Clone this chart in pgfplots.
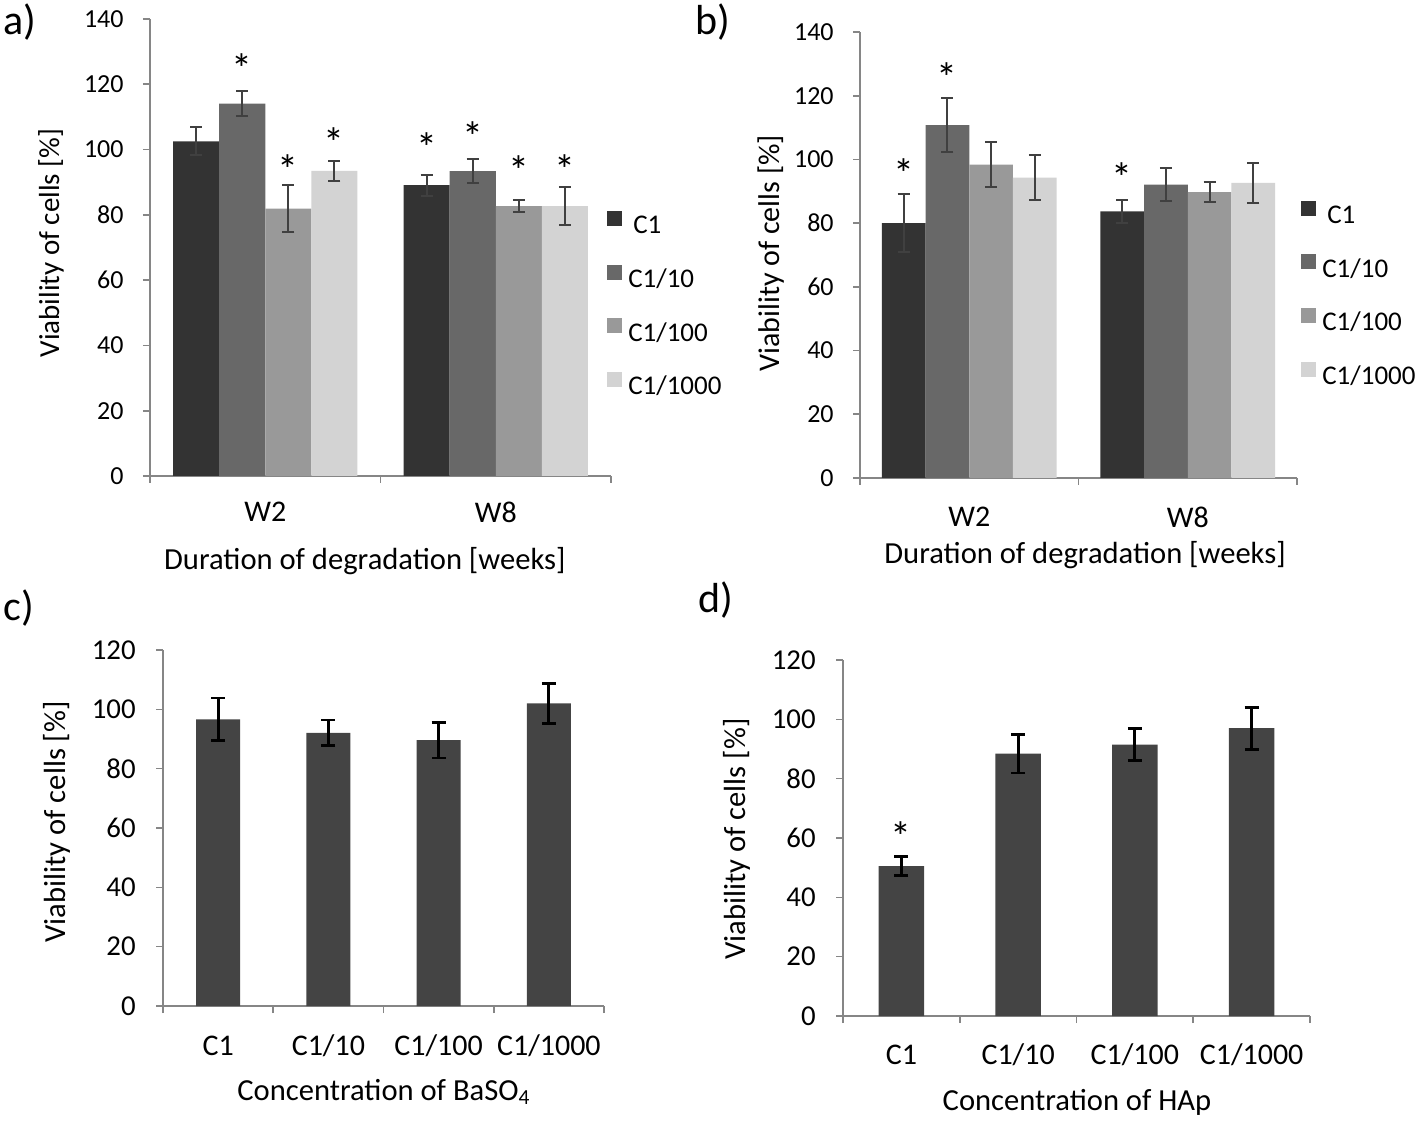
\documentclass[border=0pt]{standalone}
\usepackage{pgfplots}
\pgfplotsset{compat=1.18}
\usepackage{fontspec}
\setmainfont{Carlito}

\definecolor{cA}{HTML}{333333}
\definecolor{cB}{HTML}{686868}
\definecolor{cC}{HTML}{999999}
\definecolor{cD}{HTML}{D3D3D3}
\definecolor{cS}{HTML}{444444}
\definecolor{axisgray}{HTML}{868686}
\definecolor{errgray}{HTML}{404040}

\newcommand{\fs}[1]{\fontsize{#1}{#1}\selectfont}

\pgfplotsset{
  panel/.style={
    scale only axis, anchor=south west, clip=false,
    axis lines*=left,
    axis line style={draw=axisgray, line width=0.8pt},
    tick style={draw=axisgray, line width=0.8pt},
    tick align=outside,
    major tick length=3.5pt,
    ymin=0, ytick distance=20,
    /pgf/number format/assume math mode=true,
    yticklabel style={anchor=east, inner sep=0pt},
    ylabel style={anchor=center},
    xlabel style={anchor=center},
  },
  errA/.style={error bars/.cd, y dir=both, y explicit,
    error bar style={draw=errgray, line width=1pt},
    error mark options={rotate=90, draw=errgray, line width=1pt, mark size=3pt}},
  errC/.style={error bars/.cd, y dir=both, y explicit,
    error bar style={draw=black, line width=1.4pt},
    error mark options={rotate=90, draw=black, line width=1.4pt, mark size=3.5pt}},
  star/.style={draw=none, mark=none, forget plot,
    nodes near coords={*},
    nodes near coords style={anchor=base, yshift=-11.5pt, font=\fs{21}, inner sep=0pt, text=black}},
  barlegend/.style={
    legend image code/.code={\fill[##1, draw=none] (0pt,0.3pt) rectangle (7.5pt,7.8pt);},
    legend cell align=left,
    legend style={draw=none, fill=none, anchor=west, inner sep=0pt,
      font=\fs{13.5}, row sep=12.5pt, column sep=3pt,
      nodes={inner sep=0pt, text height=10pt, text depth=3pt}}},
}

\begin{document}
\begin{tikzpicture}
\path[use as bounding box] (0,0) rectangle (711.5pt,562pt);

% a)
\begin{axis}[panel, at={(75pt,324pt)}, width=230.5pt, height=228.5pt,
  xmin=0, xmax=2, ymax=140,
  xtick={0,1,2}, xticklabels={,,},
  extra x ticks={0.5,1.5}, extra x tick labels={W2,W8},
  extra x tick style={major tick length=0pt, xticklabel style={anchor=center, yshift=-18pt, font=\fs{15}}},
  yticklabel style={font=\fs{13}, xshift=-9.5pt},
  ylabel={Viability of cells [\%]}, ylabel style={at={(axis description cs:-0.215,0.51)}, font=\fs{14.5}},
  xlabel={Duration of degradation [weeks]}, xlabel style={at={(axis description cs:0.466,-0.186)}, font=\fs{15.3}},
  barlegend, legend style={at={(0.991,0.372)}},
]
\addplot[ybar, bar width=0.2, bar shift=0pt, fill=cA, draw=none, errA] coordinates {(0.2,102.5) +- (0,4.3) (1.2,89.1) +- (0,3.2)};
\addplot[ybar, bar width=0.2, bar shift=0pt, fill=cB, draw=none, errA] coordinates {(0.4,114.1) +- (0,3.7) (1.4,93.4) +- (0,3.6)};
\addplot[ybar, bar width=0.2, bar shift=0pt, fill=cC, draw=none, errA] coordinates {(0.6,81.9) +- (0,7.3) (1.6,82.7) +- (0,1.8)};
\addplot[ybar, bar width=0.2, bar shift=0pt, fill=cD, draw=none, errA] coordinates {(0.8,93.5) +- (0,3.0) (1.8,82.7) +- (0,5.7)};
\addplot[star] coordinates {(0.4,127.2) (0.6,96.4) (0.8,104.7) (1.2,103.2) (1.4,106.6) (1.6,95.9) (1.8,96.2)};
\legend{\hspace{2.5pt}C1,C1/10,C1/100,C1/1000}
\end{axis}

% b)
\begin{axis}[panel, at={(430pt,323pt)}, width=218.5pt, height=223pt,
  xmin=0, xmax=2, ymax=140,
  xtick={0,1,2}, xticklabels={,,},
  extra x ticks={0.5,1.5}, extra x tick labels={W2,W8},
  extra x tick style={major tick length=0pt, xticklabel style={anchor=center, yshift=-19.5pt, font=\fs{15}}},
  yticklabel style={font=\fs{13}, xshift=-9.5pt},
  ylabel={Viability of cells [\%]}, ylabel style={at={(axis description cs:-0.204,0.504)}, font=\fs{15}},
  xlabel={Duration of degradation [weeks]}, xlabel style={at={(axis description cs:0.515,-0.173)}, font=\fs{15.3}},
  barlegend, legend style={at={(1.009,0.409)}},
]
\addplot[ybar, bar width=0.2, bar shift=0pt, fill=cA, draw=none, errA] coordinates {(0.2,80.0) +- (0,9.2) (1.2,83.7) +- (0,3.7)};
\addplot[ybar, bar width=0.2, bar shift=0pt, fill=cB, draw=none, errA] coordinates {(0.4,110.8) +- (0,8.6) (1.4,92.1) +- (0,5.3)};
\addplot[ybar, bar width=0.2, bar shift=0pt, fill=cC, draw=none, errA] coordinates {(0.6,98.4) +- (0,7.0) (1.6,89.7) +- (0,3.1)};
\addplot[ybar, bar width=0.2, bar shift=0pt, fill=cD, draw=none, errA] coordinates {(0.8,94.3) +- (0,7.0) (1.8,92.6) +- (0,6.3)};
\addplot[star] coordinates {(0.2,98.1) (0.4,128.1) (1.2,96.7)};
\legend{\hspace{2.5pt}C1,C1/10,C1/100,C1/1000}
\end{axis}

% c)
\begin{axis}[panel, at={(81.5pt,59pt)}, width=220.5pt, height=178pt,
  xmin=0, xmax=4, ymax=120,
  xtick={0,1,2,3,4}, xticklabels={,,,,},
  extra x ticks={0.5,1.5,2.5,3.5}, extra x tick labels={C1,C1/10,C1/100,C1/1000},
  extra x tick style={major tick length=0pt, xticklabel style={anchor=center, yshift=-20pt, font=\fs{15}}},
  yticklabel style={font=\fs{14.4}, xshift=-10pt},
  ylabel={Viability of cells [\%]}, ylabel style={at={(axis description cs:-0.240,0.517)}, font=\fs{15.3}},
  xlabel={Concentration of BaSO\textsubscript{4}}, xlabel style={at={(axis description cs:0.501,-0.242)}, font=\fs{15.3}},
]
\addplot[ybar, bar width=0.4, bar shift=0pt, fill=cS, draw=none, errC] coordinates {(0.5,96.6) +- (0,7.2) (1.5,92.1) +- (0,4.3) (2.5,89.6) +- (0,6.0) (3.5,102.0) +- (0,6.7)};
\end{axis}

% d)
\begin{axis}[panel, at={(421.5pt,54pt)}, width=233.5pt, height=178pt,
  xmin=0, xmax=4, ymax=120,
  xtick={0,1,2,3,4}, xticklabels={,,,,},
  extra x ticks={0.5,1.5,2.5,3.5}, extra x tick labels={C1,C1/10,C1/100,C1/1000},
  extra x tick style={major tick length=0pt, xticklabel style={anchor=center, yshift=-19.5pt, font=\fs{15}}},
  yticklabel style={font=\fs{14.4}, xshift=-10pt},
  ylabel={Viability of cells [\%]}, ylabel style={at={(axis description cs:-0.227,0.497)}, font=\fs{15.3}},
  xlabel={Concentration of HAp}, xlabel style={at={(axis description cs:0.501,-0.244)}, font=\fs{15.3}},
]
\addplot[ybar, bar width=0.39, bar shift=0pt, fill=cS, draw=none, errC] coordinates {(0.5,50.5) +- (0,3.2) (1.5,88.4) +- (0,6.5) (2.5,91.5) +- (0,5.3) (3.5,97.0) +- (0,7.1)};
\addplot[star] coordinates {(0.5,63.2)};
\end{axis}

\node[anchor=west, font=\fs{21}, inner sep=0pt] at (1.5pt,551pt) {a)};
\node[anchor=west, font=\fs{21}, inner sep=0pt] at (347.5pt,551pt) {b)};
\node[anchor=west, font=\fs{21}, inner sep=0pt] at (1.5pt,258pt) {c)};
\node[anchor=west, font=\fs{21}, inner sep=0pt] at (349pt,262pt) {d)};
\end{tikzpicture}
\end{document}
